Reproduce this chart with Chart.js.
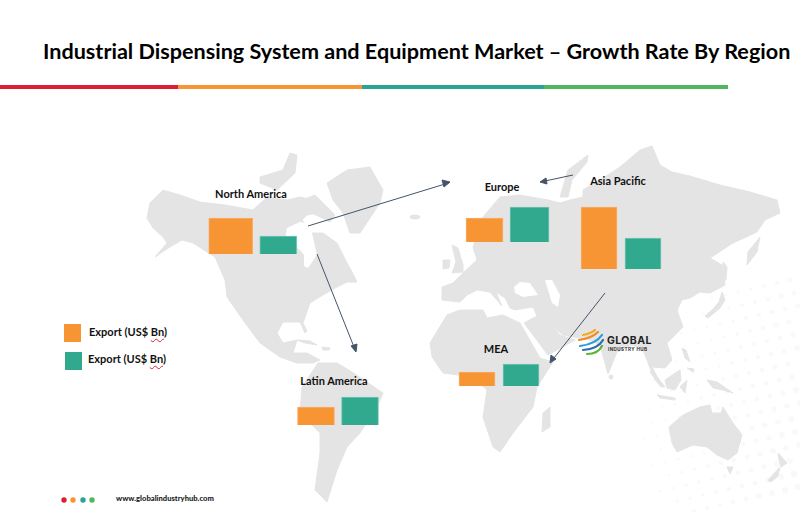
<!DOCTYPE html>
<html lang="en">
<head>
    <meta charset="UTF-8">
    <title>Industrial Dispensing System and Equipment Market – Growth Rate By Region</title>
    <script src="https://cdn.jsdelivr.net/npm/chart.js"></script>
    <style>
        html, body { margin: 0; padding: 0; background: #fff; }
        #page { position: relative; width: 800px; height: 512px; overflow: hidden; font-family: Lato, sans-serif; color: #111; }
        #page > * { position: absolute; }
        #map { left: 0; top: 0; }
        h1 { left: 43px; top: 37px; margin: 0; font-size: 21.6px; line-height: 28px; font-weight: 700; white-space: nowrap; color: #000; }
        .rule { top: 85px; height: 4px; }
        .region { font-size: 11px; font-weight: 700; white-space: nowrap; transform: translate(-50%, -50%); }
        .swatch { width: 17px; height: 18px; }
        .legend { font-size: 11px; font-weight: 700; white-space: nowrap; transform: translateY(-50%); }
        .legend u { text-decoration: underline wavy #d8202f 1px; text-underline-offset: 2px; }
        #site { left: 116px; top: 492px; font-size: 7.6px; line-height: 12px; font-weight: 900; color: #222; }
        #brand1 { left: 607px; top: 333px; font: 700 10.5px/15px Inter, sans-serif; letter-spacing: .4px; color: #222; }
        #brand2 { left: 608px; top: 346px; font: 700 4.6px/7px Inter, sans-serif; letter-spacing: .4px; color: #333; }
    </style>
</head>
<body>
<div id="page">
    <svg id="map" width="800" height="512" viewBox="0 0 800 512">
        <defs><filter id="soft"><feGaussianBlur stdDeviation="0.5"/></filter></defs>
        <g id="dots" fill="#f9f9f9"></g>
        <g filter="url(#soft)">
        <g fill="#e4e4e4" stroke="#e4e4e4" stroke-width="1" stroke-linejoin="round">
            <!-- North America -->
            <polygon points="147,218 150,203 163,190 180,195 200,202 225,205 253,210 267,197 287,200 300,197 313,200 323,212 307,215 302,220 312,233 323,233 337,243 347,263 350,268 357,282 347,282 337,287 323,295 310,303 303,323 307,331 305,333 300,322 283,322 277,333 283,343 297,340 293,353 307,353 320,360 313,363 297,363 280,357 260,343 243,320 227,297 225,280 215,257 193,243 182,240 170,247 155,257 167,243 163,237 153,228"/>
            <polygon points="260,177 283,170 290,153 297,155 295,173 277,190 260,183"/>
            <polygon points="302,200 315,195 335,215 330,222 312,213"/>
            <polygon points="327,183 347,170 370,167 383,190 380,203 360,233 350,233 343,213 333,200"/>
            <polygon points="297,340 310,341 317,345 305,343"/>
            <polygon points="322,347 330,348 329,350 323,350"/>
            <ellipse cx="415" cy="217" rx="5" ry="2"/>
            <!-- South America -->
            <polygon points="318,363 337,363 352,372 383,393 378,405 360,433 347,447 337,470 327,502 315,490 320,453 320,433 300,413 302,387"/>
            <!-- Africa -->
            <polygon points="430,343 447,315 460,310 483,310 487,318 503,315 520,323 540,358 553,362 537,387 533,407 513,433 500,452 493,447 483,417 487,390 473,377 443,373 432,357"/>
            <polygon points="543,413 550,407 550,427 542,432"/>
            <!-- Eurasia -->
            <polygon points="442,287 453,283 463,273 477,260 473,247 483,217 500,197 520,195 548,200 560,203 570,200 583,197 583,190 600,180 620,167 640,150 652,146 660,165 672,172 690,176 720,185 750,192 777,200 780,213 765,220 757,232 733,243 710,258 722,265 725,285 710,293 700,292 690,298 682,300 677,310 683,327 667,343 672,360 665,368 652,367 660,382 663,388 655,380 650,368 643,350 632,345 617,352 608,374 600,345 590,340 573,337 563,335 553,327 560,335 575,340 548,355 524,323 537,316 533,307 515,310 510,308 505,298 496,292 502,306 490,292 477,290 467,295 460,302 442,300"/>
            <polygon points="560,197 568,170 588,155 587,162 572,180 568,197"/>
            <polygon points="747,265 748,252 760,237 757,252"/>
            <polygon points="723,262 727,267 726,280 723,280"/>
            <polygon points="705,316 712,310 719,302 722,292 725,300 720,308 708,318"/>
            <polygon points="452,245 458,248 463,265 463,272 452,273 456,262"/>
            <polygon points="443,260 450,260 449,268 443,269"/>
            <circle cx="611" cy="377" r="2"/>
            <!-- South East Asia and Oceania -->
            <polygon points="652,370 665,387 660,386 650,372"/>
            <polygon points="665,380 680,370 681,380 675,390 667,388"/>
            <polygon points="657,395 675,398 675,400 660,398"/>
            <polygon points="680,387 687,380 685,393"/>
            <polygon points="682,348 686,350 690,362 685,358"/>
            <polygon points="687,368 694,369 693,372"/>
            <polygon points="707,380 717,382 733,393 723,390 713,388"/>
            <polygon points="669,427 683,415 700,407 710,405 712,413 721,413 723,407 733,423 742,435 737,453 728,460 717,455 707,447 693,445 677,452 672,443"/>
            <polygon points="727,467 733,467 730,474"/>
            <polygon points="778,453 787,463 781,467 779,460"/>
            <polygon points="768,480 780,467 778,476 771,482"/>
        </g>
        <g fill="#fff">
            <polygon points="287,228 300,222 312,224 312,233 317,255 308,268 304,266 304,255 297,247 285,240"/>
            <polygon points="514,287 520,282 530,283 538,295 523,297 515,293"/>
            <polygon points="545,280 552,280 560,295 558,307 552,303 548,290"/>
        </g>
        </g>
        <g id="arrows" stroke="#44546a" stroke-width="1" fill="#44546a">
            <line x1="308" y1="226" x2="445" y2="184"/>
            <polygon points="450,182 442,180 444,187"/>
            <line x1="317" y1="254" x2="354" y2="347"/>
            <polygon points="356,352 351,346 357,344"/>
            <line x1="573" y1="175" x2="545" y2="181"/>
            <polygon points="540,182 546,178 547,184"/>
            <line x1="605" y1="293" x2="554" y2="358"/>
            <polygon points="550,363 551,355 556,359"/>
        </g>
        <g fill="none" stroke-width="2.2" stroke-linecap="round">
            <path d="M583,335 Q592,333 595,330" stroke="#f7a823"/>
            <path d="M579,340 Q592,338 598,332" stroke="#f28a24"/>
            <path d="M580,346 Q596,344 602,335" stroke="#2a9ed8"/>
            <path d="M583,350 Q598,349 603,340" stroke="#2d6cb5"/>
            <path d="M587,354 Q598,354 602,346" stroke="#5cb531"/>
        </g>
    </svg>

    <h1>Industrial Dispensing System and Equipment Market – Growth Rate By Region</h1>
    <div class="rule" style="left:0;width:178px;background:#dc1e35"></div>
    <div class="rule" style="left:178px;width:184px;background:#f79433"></div>
    <div class="rule" style="left:362px;width:182px;background:#27a592"></div>
    <div class="rule" style="left:544px;width:184px;background:#4fb85e"></div>

    <div class="swatch" style="left:64px;top:324px;background:#f79433"></div>
    <div class="legend" style="left:89px;top:331px" id="legend0"></div>
    <div class="swatch" style="left:65px;top:352px;background:#31a98f"></div>
    <div class="legend" style="left:88px;top:358px" id="legend1"></div>

    <svg width="800" height="512" style="left:0;top:0">
        <circle cx="64" cy="500" r="2.7" fill="#dc1e35"/>
        <circle cx="73" cy="500" r="2.7" fill="#f79433"/>
        <circle cx="83" cy="500" r="2.7" fill="#27a592"/>
        <circle cx="92" cy="500" r="2.7" fill="#4fb85e"/>
    </svg>
    <div id="site">www.globalindustryhub.com</div>
    <div id="brand1">GLOBAL</div>
    <div id="brand2">INDUSTRY HUB</div>
</div>

<script>
    const regions = ['North America', 'Europe', 'Asia Pacific', 'MEA', 'Latin America'];
    const seriesNames = ['Export (US$ Bn)', 'Export (US$ Bn)'];
    const exportOrange = [3.6, 2.4, 6.2, 1.4, 1.8];
    const exportTeal = [1.8, 3.5, 3.1, 2.2, 2.8];

    // where each small chart sits on the map, separate from the values
    const placement = [
        { left: 207, base: 254, width: 95, bars: [44, 37], label: [251, 193] },
        { left: 462, base: 242, width: 90, bars: [37, 39], label: [502, 186] },
        { left: 577, base: 269, width: 88, bars: [36, 36], label: [618, 180] },
        { left: 455, base: 386, width: 88, bars: [36, 36], label: [496, 348] },
        { left: 294, base: 425, width: 88, bars: [37, 37], label: [334, 380] }
    ];
    const chartHeight = 65;
    const page = document.getElementById('page');

    seriesNames.forEach((name, i) => {
        const parts = name.split('Bn');
        document.getElementById('legend' + i).innerHTML = parts[0] + '<u>Bn</u>' + parts[1];
    });

    regions.forEach((region, i) => {
        const place = placement[i];

        const label = document.createElement('div');
        label.className = 'region';
        label.textContent = region;
        label.style.left = place.label[0] + 'px';
        label.style.top = place.label[1] + 'px';
        page.appendChild(label);

        const canvas = document.createElement('canvas');
        canvas.width = place.width;
        canvas.height = chartHeight;
        canvas.style.left = place.left + 'px';
        canvas.style.top = (place.base - chartHeight) + 'px';
        page.appendChild(canvas);

        new Chart(canvas.getContext('2d'), {
            type: 'bar',
            data: {
                labels: seriesNames,
                datasets: [{
                    label: seriesNames[0],
                    data: [exportOrange[i], null],
                    backgroundColor: '#f79433',
                    borderColor: '#fbad68',
                    borderWidth: 1,
                    barThickness: place.bars[0]
                }, {
                    label: seriesNames[1],
                    data: [null, exportTeal[i]],
                    backgroundColor: '#31a98f',
                    borderColor: '#72c9b6',
                    borderWidth: 1,
                    barThickness: place.bars[1]
                }]
            },
            options: {
                responsive: false,
                animation: false,
                plugins: { legend: { display: false } },
                scales: {
                    x: { display: false, stacked: true },
                    y: { display: false, stacked: true, min: 0, max: 6.5 }
                }
            }
        });
    });

    // faint dot field behind the south east corner of the map
    const dots = document.getElementById('dots');
    for (let row = 0; row < 18; row++) {
        for (let col = 0; col < 18; col++) {
            const x = 600 + col * 13 + row * 4;
            const y = 296 + row * 13 - col * 3;
            if (x > 800 || y > 512 || y < 280) continue;
            const r = Math.max(0, (x - 590) / 210 * 3 + (y - 400) / 300);
            if (r < 0.5 || (x < 700 && y < 330)) continue;
            const dot = document.createElementNS('http://www.w3.org/2000/svg', 'circle');
            dot.setAttribute('cx', x);
            dot.setAttribute('cy', y);
            dot.setAttribute('r', r.toFixed(1));
            dots.appendChild(dot);
        }
    }
</script>
</body>
</html>
